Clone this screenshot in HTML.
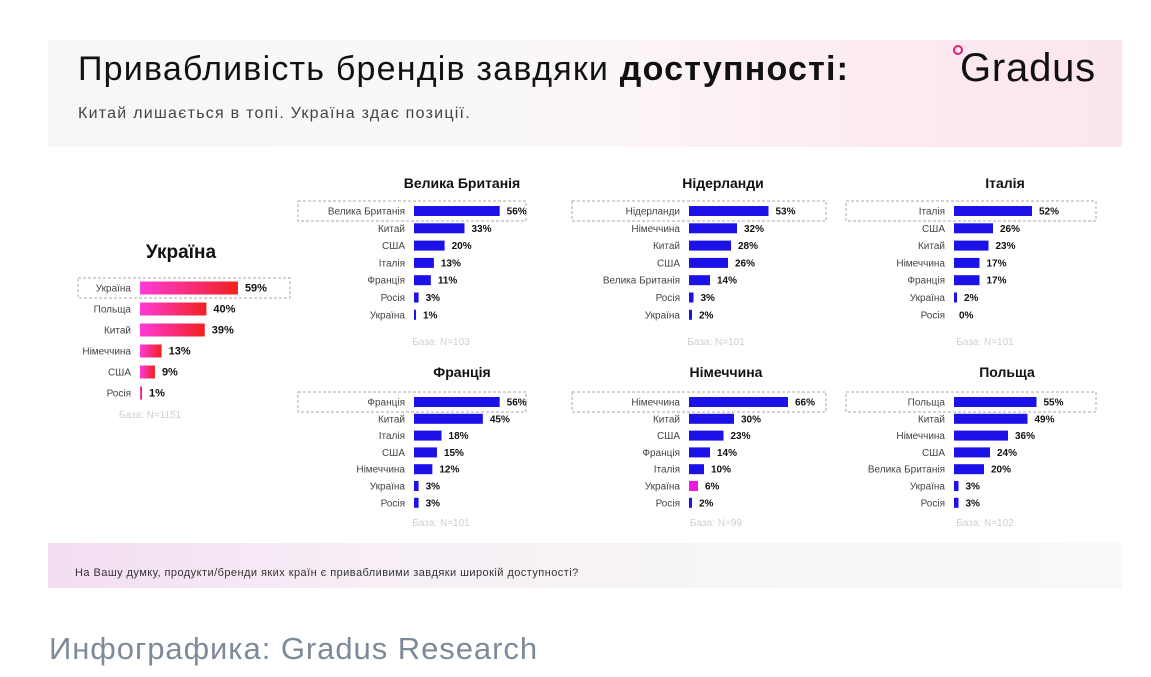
<!DOCTYPE html>
<html><head><meta charset="utf-8">
<style>
body{margin:0;width:1151px;height:677px;background:#fff;overflow:hidden;font-family:"Liberation Sans","DejaVu Sans",sans-serif;position:relative}
.abs{position:absolute;white-space:nowrap}
#header{left:48px;top:40px;width:1074px;height:107px;background:linear-gradient(90deg,#f7f7f7 0%,#fbf7f9 50%,#fde9f1 80%,#fbe6ef 100%)}
#footer{left:48px;top:543px;width:1074px;height:45px;background:linear-gradient(90deg,#f3def2 0%,#f7eef6 30%,#f7f7f7 70%,#f9f9f9 100%)}
svg text{font-family:"Liberation Sans","DejaVu Sans",sans-serif}
</style></head>
<body>
<div id="header" class="abs"></div>
<div id="footer" class="abs"></div>
<div class="abs" style="left:78px;top:50px;font-size:34px;color:#111;letter-spacing:1.2px">Привабливість брендів завдяки <b>доступності:</b></div>
<div class="abs" style="left:78px;top:105px;font-size:16px;color:#444;letter-spacing:1.25px">Китай лишається в топі. Україна здає позиції.</div>
<div class="abs" style="left:960px;top:46px;font-size:40px;color:#111;letter-spacing:0.8px">Gradus</div>
<div class="abs" style="left:953px;top:45px;width:6px;height:6px;border:2px solid #e0207a;border-radius:50%"></div>
<div class="abs" style="left:75px;top:567px;font-size:11px;color:#333;letter-spacing:0.45px">На Вашу думку, продукти/бренди яких країн є привабливими завдяки широкій доступності?</div>
<div class="abs" style="left:49px;top:631px;font-size:31px;color:#7d8a99;letter-spacing:0.95px">Инфографика: Gradus Research</div>
<svg id="chart" class="abs" style="left:0;top:0" width="1151" height="677">
<defs><linearGradient id="ug" x1="0" x2="1"><stop offset="0" stop-color="#ff3ad8"/><stop offset="1" stop-color="#f2201e"/></linearGradient></defs>
</svg>
<script>
const panelTitles=["Україна","Велика Британія","Нідерланди","Італія","Франція","Німеччина","Польща"];
const panelBases=["База: N=1151","База: N=103","База: N=101","База: N=101","База: N=101","База: N=99","База: N=102"];
const catsUA=["Україна","Польща","Китай","Німеччина","США","Росія"];
const valsUA=[59,40,39,13,9,1];
const catsGB=["Велика Британія","Китай","США","Італія","Франція","Росія","Україна"];
const valsGB=[56,33,20,13,11,3,1];
const catsNL=["Нідерланди","Німеччина","Китай","США","Велика Британія","Росія","Україна"];
const valsNL=[53,32,28,26,14,3,2];
const catsIT=["Італія","США","Китай","Німеччина","Франція","Україна","Росія"];
const valsIT=[52,26,23,17,17,2,0];
const catsFR=["Франція","Китай","Італія","США","Німеччина","Україна","Росія"];
const valsFR=[56,45,18,15,12,3,3];
const catsDE=["Німеччина","Китай","США","Франція","Італія","Україна","Росія"];
const valsDE=[66,30,23,14,10,6,2];
const catsPL=["Польща","Китай","Німеччина","США","Велика Британія","Україна","Росія"];
const valsPL=[55,49,36,24,20,3,3];

const svg=document.getElementById('chart');
const NS='http://www.w3.org/2000/svg';
function mk(tag,attrs,txt){const e=document.createElementNS(NS,tag);for(const k in attrs)e.setAttribute(k,attrs[k]);if(txt!==undefined)e.textContent=txt;svg.appendChild(e);return e;}

const layouts=[
 {cats:catsUA,vals:valsUA,x0:140,y0:288,step:21,bh:13,scale:1.66,tx:181,ty:258,tsize:19,box:[78,278,212,20],bx:150,by:418,grad:true},
 {cats:catsGB,vals:valsGB,x0:414,y0:211,step:17.3,bh:10,scale:1.53,tx:462,ty:188,tsize:14,box:[298,201,228,20],bx:441,by:345},
 {cats:catsNL,vals:valsNL,x0:689,y0:211,step:17.3,bh:10,scale:1.5,tx:723,ty:188,tsize:14,box:[572,201,254,20],bx:716,by:345},
 {cats:catsIT,vals:valsIT,x0:954,y0:211,step:17.3,bh:10,scale:1.5,tx:1005,ty:188,tsize:14,box:[846,201,250,20],bx:985,by:345},
 {cats:catsFR,vals:valsFR,x0:414,y0:402,step:16.8,bh:10,scale:1.53,tx:462,ty:377,tsize:14,box:[298,392,228,20],bx:441,by:526},
 {cats:catsDE,vals:valsDE,x0:689,y0:402,step:16.8,bh:10,scale:1.5,tx:726,ty:377,tsize:14,box:[572,392,254,20],bx:716,by:526},
 {cats:catsPL,vals:valsPL,x0:954,y0:402,step:16.8,bh:10,scale:1.5,tx:1007,ty:377,tsize:14,box:[846,392,250,20],bx:985,by:526}
];
layouts.forEach((p,pi)=>{
  const t=mk('text',{x:p.tx,y:p.ty,'text-anchor':'middle','font-size':p.tsize,'font-weight':'bold',fill:'#111'},panelTitles[pi]);
  
  
  const b=mk('rect',{x:p.box[0],y:p.box[1],width:p.box[2],height:p.box[3],fill:'none',stroke:'#aaa','stroke-dasharray':'3,2','stroke-width':1});
  
  
  p.cats.forEach((c,i)=>{
    const cy=p.y0+i*p.step;
    const w=Math.max(p.vals[i]*p.scale,p.vals[i]>0?2:0);
    const lab=mk('text',{x:p.x0-9,y:cy+3.5,'text-anchor':'end','font-size':10,fill:'#444'},c);
    
    
    let fill=p.grad?'url(#ug)':'#1c12e8';
    if(pi===5&&c==='Україна')fill='#f018e0';
    const r=mk('rect',{x:p.x0,y:cy-p.bh/2,width:w,height:p.bh,fill:fill});
    
    
    const v=mk('text',{x:p.x0+w+(p.vals[i]>0?7:5),y:cy+3.5,'font-size':pi===0?11:10,'font-weight':'bold',fill:'#111'},p.vals[i]+'%');
    
    
  });
  const bs=mk('text',{x:p.bx,y:p.by,'text-anchor':'middle','font-size':10,fill:'#cfcfcf'},panelBases[pi]);
  
  
});
</script>
</body></html>
